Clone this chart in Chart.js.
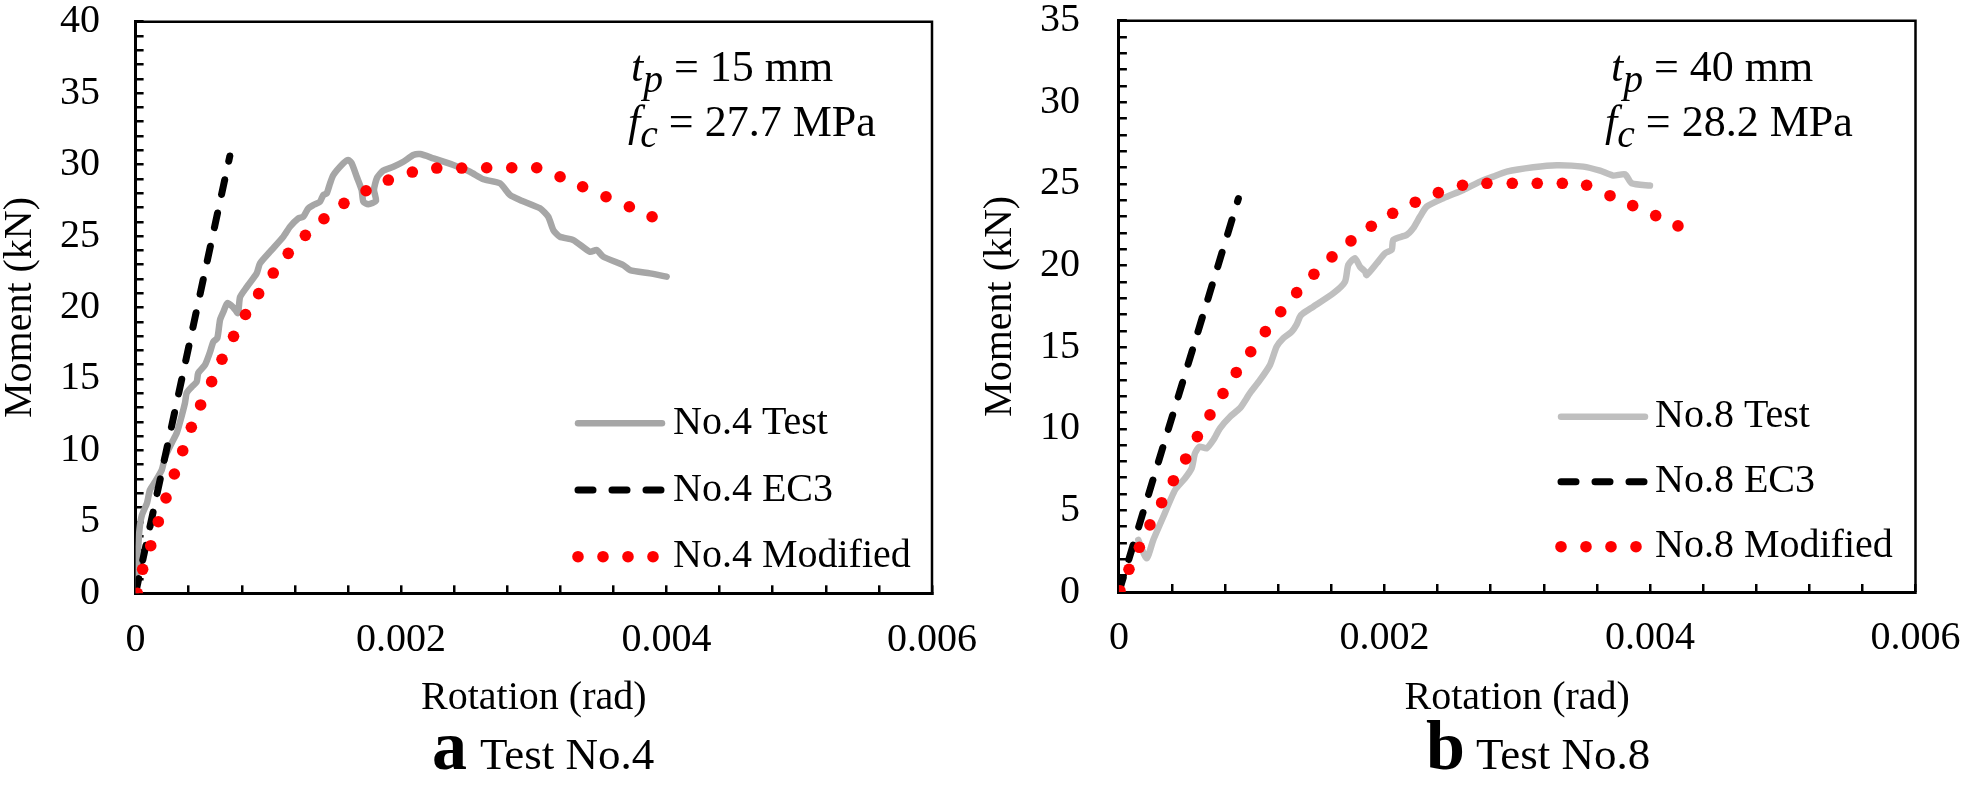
<!DOCTYPE html>
<html lang="en">
<head>
  <meta charset="UTF-8">
  <title>Moment-rotation curves, Test No.4 and Test No.8</title>
  <style>
    body { margin: 0; background: #fff; }
    #figure {
      position: relative;
      width: 1961px;
      height: 787px;
      background: #fff;
      color: #000;
      font-family: 'Liberation Serif', 'Times New Roman', serif;
      overflow: hidden;
    }
    .panel { position: absolute; top: 0; }
    .txt { position: absolute; line-height: 1; white-space: nowrap; }
    .note { font-size: 44px; }
    .note sub { font-size: 0.9em; line-height: 0; vertical-align: -0.28em; }
    .tag { font-size: 70px; font-weight: bold; }
    .cap { font-size: 45px; }
  </style>
</head>
<body>
  <div id="figure">
    <div class="panel" style="left:0"><canvas id="chartA" width="980" height="787"></canvas></div>
    <div class="panel" style="left:980px"><canvas id="chartB" width="981" height="787"></canvas></div>

    <div class="txt note" style="left:631px;top:45px"><i>t</i><sub><i>p</i></sub> = 15 mm</div>
    <div class="txt note" style="left:628px;top:100px"><i>f</i><sub><i>c</i></sub> = 27.7 MPa</div>
    <div class="txt note" style="left:1611px;top:45px"><i>t</i><sub><i>p</i></sub> = 40 mm</div>
    <div class="txt note" style="left:1605px;top:100px"><i>f</i><sub><i>c</i></sub> = 28.2 MPa</div>

    <div class="txt tag" style="left:432px;top:711px">a</div>
    <div class="txt cap" style="left:480px;top:732px">Test No.4</div>
    <div class="txt tag" style="left:1426px;top:711px">b</div>
    <div class="txt cap" style="left:1476px;top:732px">Test No.8</div>
  </div>

  <script src="https://cdn.jsdelivr.net/npm/chart.js"></script>
  <script>
    // Test No.4 (rotation in rad, moment in kN)
    const test4Rot = [0, 0.000014, 0.000029, 0.000048, 0.000086, 0.000108, 0.000146, 0.000197, 0.000222, 0.000272,
      0.000310, 0.000335, 0.000372, 0.000385, 0.000423, 0.000460, 0.000472, 0.000523, 0.000561, 0.000585,
      0.000616, 0.000636, 0.000661, 0.000691, 0.000734, 0.000771, 0.000787, 0.000837, 0.000912, 0.000937,
      0.001013, 0.001113, 0.001163, 0.001226, 0.001263, 0.001301, 0.001339, 0.001389, 0.001414, 0.001440,
      0.001465, 0.001490, 0.001565, 0.001602, 0.001628, 0.001666, 0.001703, 0.001716, 0.001753, 0.001811,
      0.001796, 0.001819, 0.001864, 0.001942, 0.002017, 0.002092, 0.002143, 0.002243, 0.002394, 0.002519,
      0.002620, 0.002745, 0.002821, 0.002896, 0.003047, 0.003109, 0.003147, 0.003197, 0.003298, 0.003423,
      0.003474, 0.003524, 0.003674, 0.003725, 0.003876, 0.004001];
    const test4Mom = [0, 2.33, 4.43, 5.48, 6.32, 7.23, 7.79, 8.63, 9.54, 10.52,
      11.22, 11.99, 13.32, 14.02, 14.44, 14.79, 15.42, 15.98, 16.89, 17.59,
      17.87, 19.13, 19.69, 20.31, 20.03, 19.61, 20.73, 21.43, 22.39, 23.09,
      23.91, 24.95, 25.65, 26.24, 26.35, 26.94, 27.17, 27.40, 27.87, 27.99,
      28.69, 29.27, 30.09, 30.33, 30.09, 29.15, 28.22, 27.40, 27.22, 27.46,
      28.24, 29.08, 29.57, 29.85, 30.20, 30.67, 30.74, 30.44, 29.97, 29.50,
      28.97, 28.69, 27.87, 27.52, 26.94, 26.35, 25.42, 24.95, 24.72, 23.90,
      24.02, 23.55, 22.97, 22.62, 22.39, 22.16];
    const ec3No4Rot = [0, 0.00071];
    const ec3No4Mom = [0, 30.6];
    const mod4Rot = [0.000013, 0.000053, 0.000114, 0.000171, 0.000229, 0.000292, 0.000355, 0.000420, 0.000490, 0.000573,
      0.000651, 0.000738, 0.000828, 0.000927, 0.001037, 0.001150, 0.001279, 0.001419, 0.001570, 0.001736,
      0.001904, 0.002085, 0.002269, 0.002457, 0.002645, 0.002834, 0.003022, 0.003198, 0.003368, 0.003544,
      0.003720, 0.003891];
    const mod4Mom = [0, 1.68, 3.33, 5.01, 6.67, 8.35, 9.98, 11.62, 13.18, 14.81,
      16.38, 17.98, 19.51, 20.97, 22.41, 23.79, 25.05, 26.21, 27.29, 28.17,
      28.92, 29.48, 29.76, 29.76, 29.78, 29.78, 29.78, 29.15, 28.45, 27.75,
      27.05, 26.35];

    // Test No.8
    const test8Rot = [0.000146, 0.000209, 0.000259, 0.000334, 0.000423, 0.000498, 0.000548, 0.000573, 0.000606, 0.000661,
      0.000711, 0.000761, 0.000837, 0.000912, 0.000987, 0.001063, 0.001138, 0.001188, 0.001238, 0.001301,
      0.001339, 0.001364, 0.001389, 0.001464, 0.001615, 0.001703, 0.001728, 0.001778, 0.001816, 0.001854,
      0.001866, 0.001942, 0.002004, 0.002055, 0.002067, 0.002168, 0.002217, 0.002268, 0.002318, 0.002443,
      0.002594, 0.002720, 0.002820, 0.002921, 0.003121, 0.003297, 0.003498, 0.003624, 0.003724, 0.003812,
      0.003862, 0.004000];
    const test8Mom = [3.19, 2.06, 3.19, 4.61, 6.25, 6.97, 7.58, 8.50, 8.90, 8.81,
      9.31, 10.03, 10.74, 11.26, 12.18, 12.99, 13.91, 15.03, 15.55, 15.95,
      16.40, 16.87, 17.08, 17.48, 18.30, 19.01, 20.04, 20.45, 19.93, 19.63,
      19.42, 20.14, 20.75, 20.96, 21.57, 21.88, 22.29, 23.00, 23.61, 24.12,
      24.63, 25.14, 25.45, 25.75, 26.02, 26.15, 26.06, 25.81, 25.51, 25.59,
      25.04, 24.90];
    const ec3No8Rot = [0, 0.0009];
    const ec3No8Mom = [0, 24.1];
    const mod8Rot = [0.000008, 0.000076, 0.000154, 0.000234, 0.000322, 0.000410, 0.000503, 0.000591, 0.000686, 0.000784,
      0.000884, 0.000993, 0.001103, 0.001219, 0.001339, 0.001469, 0.001605, 0.001748, 0.001901, 0.002062,
      0.002232, 0.002406, 0.002588, 0.002772, 0.002963, 0.003151, 0.003340, 0.003523, 0.003699, 0.003870,
      0.004043, 0.004211];
    const mod8Mom = [0.08, 1.39, 2.74, 4.11, 5.47, 6.82, 8.15, 9.52, 10.85, 12.16,
      13.45, 14.72, 15.95, 17.17, 18.34, 19.47, 20.53, 21.51, 22.41, 23.20,
      23.88, 24.47, 24.92, 25.04, 25.04, 25.04, 25.04, 24.92, 24.28, 23.67,
      23.06, 22.43];

    const xTickLabels = ['0', '0.002', '0.004', '0.006'];

    Chart.defaults.font.family = "'Liberation Serif', 'Times New Roman', serif";
    Chart.defaults.color = '#000';

    function pairs(xs, ys) {
      return xs.map((x, i) => ({ x: x, y: ys[i] }));
    }

    // top and right edges of the plot box
    const frame = {
      id: 'frame',
      beforeDatasetsDraw(chart) {
        const { left, right, top, bottom } = chart.chartArea;
        const ctx = chart.ctx;
        ctx.save();
        ctx.strokeStyle = '#000';
        ctx.lineWidth = 2.5;
        ctx.beginPath();
        ctx.moveTo(left, top);
        ctx.lineTo(right, top);
        ctx.lineTo(right, bottom);
        ctx.stroke();
        ctx.restore();
      }
    };

    // legend sitting inside the plot, lower right
    const innerLegend = {
      id: 'innerLegend',
      afterDraw(chart, args, opts) {
        const ctx = chart.ctx;
        const { left, top } = chart.chartArea;
        chart.data.datasets.forEach((ds, i) => {
          const x = left + opts.x;
          const y = top + opts.y + i * opts.rowGap;
          ctx.save();
          if (ds.showLine) {
            ctx.strokeStyle = ds.borderColor;
            ctx.lineWidth = ds.borderWidth;
            ctx.lineCap = 'round';
            ctx.setLineDash(ds.borderDash || []);
            ctx.beginPath();
            ctx.moveTo(x + 3, y);
            ctx.lineTo(x + 87, y);
            ctx.stroke();
          } else {
            ctx.fillStyle = ds.pointBackgroundColor;
            for (let k = 0; k < 4; k++) {
              ctx.beginPath();
              ctx.arc(x + 3 + k * 25, y, ds.pointRadius, 0, Math.PI * 2);
              ctx.fill();
            }
          }
          ctx.fillStyle = '#000';
          ctx.font = "40px 'Liberation Serif'";
          ctx.textBaseline = 'middle';
          ctx.fillText(ds.label, x + opts.textX, y);
          ctx.restore();
        });
      }
    };

    function makeChart(id, c) {
      return new Chart(document.getElementById(id), {
        type: 'scatter',
        data: {
          datasets: [
            {
              label: c.labels[0],
              data: pairs(c.testRot, c.testMom),
              showLine: true,
              borderColor: c.testColor,
              borderWidth: 6.5,
              borderCapStyle: 'round',
              borderJoinStyle: 'round',
              tension: 0.2,
              pointRadius: 0,
              order: 3
            },
            {
              label: c.labels[1],
              data: pairs(c.ec3Rot, c.ec3Mom),
              showLine: true,
              borderColor: '#000000',
              borderWidth: 7,
              borderDash: [15, 19],
              borderCapStyle: 'round',
              pointRadius: 0,
              order: 2
            },
            {
              label: c.labels[2],
              data: pairs(c.modRot, c.modMom),
              showLine: false,
              pointRadius: 5.8,
              pointBackgroundColor: '#ff0000',
              pointBorderColor: '#ff0000',
              pointBorderWidth: 0,
              order: 1
            }
          ]
        },
        options: {
          responsive: false,
          animation: false,
          events: [],
          layout: { padding: { top: c.padTop, right: c.padRight, left: 0, bottom: 0 } },
          plugins: {
            legend: { display: false },
            tooltip: { enabled: false },
            innerLegend: { x: c.legX, y: c.legY, rowGap: c.legGap, textX: c.legTextX }
          },
          scales: {
            x: {
              type: 'linear',
              min: 0,
              max: 0.006,
              border: { color: '#000', width: 3 },
              grid: { drawOnChartArea: false, drawTicks: true, tickLength: -8, color: '#000', lineWidth: 2.5 },
              ticks: {
                stepSize: 0.0004,
                autoSkip: false,
                maxRotation: 0,
                padding: 30.7,
                font: { size: 40, lineHeight: 1.2 },
                callback: v => {
                  const k = Math.round(v / 0.0004);
                  return k % 5 === 0 ? xTickLabels[k / 5] : '';
                }
              },
              title: {
                display: true,
                text: 'Rotation (rad)',
                font: { size: 40, lineHeight: 1 },
                padding: { top: 0, bottom: 68.5 }
              },
              afterFit: s => {
                s.height = c.xAxisH;
                s.paddingLeft = 0;
                s.paddingRight = 0;
              }
            },
            y: {
              min: 0,
              max: c.yMax,
              border: { color: '#000', width: 3 },
              grid: { drawOnChartArea: false, drawTicks: true, tickLength: -8, color: '#000', lineWidth: 2.5 },
              ticks: {
                stepSize: 1,
                autoSkip: false,
                padding: c.yPad,
                font: { size: 40, lineHeight: 1 },
                callback: v => (Math.round(v) % 5 === 0 ? String(Math.round(v)) : '')
              },
              title: {
                display: true,
                text: 'Moment (kN)',
                font: { size: 40, lineHeight: 1 },
                padding: 0
              },
              afterFit: s => {
                s.width = c.yAxisW;
                s.paddingTop = 0;
                s.paddingBottom = 0;
              }
            }
          }
        },
        plugins: [frame, innerLegend]
      });
    }

    makeChart('chartA', {
      labels: ['No.4 Test', 'No.4 EC3', 'No.4 Modified'],
      testRot: test4Rot, testMom: test4Mom,
      ec3Rot: ec3No4Rot, ec3Mom: ec3No4Mom,
      modRot: mod4Rot, modMom: mod4Mom,
      testColor: '#a6a6a6',
      yMax: 40,
      padTop: 21.7, padRight: 48, yAxisW: 135.6, xAxisH: 193.7, yPad: 43.6,
      legX: 439.4, legY: 401.6, legGap: 66.7, legTextX: 98
    });

    makeChart('chartB', {
      labels: ['No.8 Test', 'No.8 EC3', 'No.8 Modified'],
      testRot: test8Rot, testMom: test8Mom,
      ec3Rot: ec3No8Rot, ec3Mom: ec3No8Mom,
      modRot: mod8Rot, modMom: mod8Mom,
      testColor: '#bfbfbf',
      yMax: 35,
      padTop: 20.7, padRight: 45.5, yAxisW: 138.9, xAxisH: 195, yPad: 46.9,
      legX: 439.1, legY: 396, legGap: 65, legTextX: 97
    });
  </script>
</body>
</html>
